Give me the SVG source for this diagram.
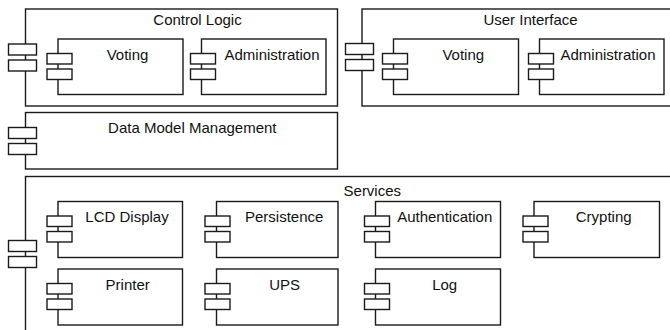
<svg xmlns="http://www.w3.org/2000/svg" width="670" height="330" viewBox="0 0 670 330">
  <style>
    .box { fill: #ffffff; stroke: #1a1a1a; stroke-width: 1.4; }
    .port { fill: #ffffff; stroke: #1a1a1a; stroke-width: 1.4; }
    text { font-family: "Liberation Sans", Arial, Helvetica, sans-serif; font-size: 15px; fill: #111111; text-anchor: middle; }
  </style>
  <defs>
    <!-- component interface tabs: outer (large) and inner (small) -->
    <g id="portsL">
      <rect class="port" x="0" y="0" width="28" height="11"/>
      <rect class="port" x="0" y="16" width="28" height="11"/>
    </g>
    <g id="portsS">
      <rect class="port" x="0" y="0" width="25" height="10.5"/>
      <rect class="port" x="0" y="15.5" width="25" height="10.5"/>
    </g>
  </defs>
  <rect width="670" height="330" fill="#ffffff"/>

  <!-- Control Logic -->
  <g id="control-logic">
    <rect class="box" x="25.5" y="9" width="312" height="97"/>
    <use href="#portsL" x="8.5" y="44"/>
    <text x="197.5" y="25">Control Logic</text>
    <g id="cl-voting">
      <rect class="box" x="58" y="39" width="125" height="55.5"/>
      <use href="#portsS" x="47" y="53.5"/>
      <text x="127.5" y="60">Voting</text>
    </g>
    <g id="cl-administration">
      <rect class="box" x="201.5" y="39" width="124.5" height="55.5"/>
      <use href="#portsS" x="190.5" y="53.5"/>
      <text x="272" y="60">Administration</text>
    </g>
  </g>

  <!-- User Interface -->
  <g id="user-interface">
    <rect class="box" x="362" y="9" width="400" height="97"/>
    <use href="#portsL" x="345.5" y="43.5"/>
    <text x="530.5" y="25">User Interface</text>
    <g id="ui-voting">
      <rect class="box" x="393.5" y="39" width="125" height="55.5"/>
      <use href="#portsS" x="382.5" y="53.5"/>
      <text x="463.3" y="60">Voting</text>
    </g>
    <g id="ui-administration">
      <rect class="box" x="539.5" y="39" width="124.5" height="55.5"/>
      <use href="#portsS" x="528.5" y="53.5"/>
      <text x="608" y="60">Administration</text>
    </g>
  </g>

  <!-- Data Model Management -->
  <g id="data-model-management">
    <rect class="box" x="25.5" y="112.5" width="312" height="56.5"/>
    <use href="#portsL" x="8.5" y="127.5"/>
    <text x="192.3" y="132.5">Data Model Management</text>
  </g>

  <!-- Services -->
  <g id="services">
    <rect class="box" x="25.5" y="176.5" width="800" height="300"/>
    <use href="#portsL" x="8.5" y="240.5"/>
    <text x="372.3" y="195.5">Services</text>
    <g id="svc-lcd-display">
      <rect class="box" x="58" y="201.5" width="124.5" height="56"/>
      <use href="#portsS" x="47" y="216"/>
      <text x="127" y="222">LCD Display</text>
    </g>
    <g id="svc-persistence">
      <rect class="box" x="216.5" y="201.5" width="121.5" height="56"/>
      <use href="#portsS" x="205" y="216"/>
      <text x="284.2" y="222">Persistence</text>
    </g>
    <g id="svc-authentication">
      <rect class="box" x="375.5" y="201.5" width="125" height="56"/>
      <use href="#portsS" x="364.5" y="216"/>
      <text x="444.7" y="222">Authentication</text>
    </g>
    <g id="svc-crypting">
      <rect class="box" x="534" y="201.5" width="125.5" height="56"/>
      <use href="#portsS" x="523" y="216"/>
      <text x="603.7" y="222">Crypting</text>
    </g>
    <g id="svc-printer">
      <rect class="box" x="58" y="269" width="124.5" height="56"/>
      <use href="#portsS" x="47" y="283.5"/>
      <text x="127.7" y="289.5">Printer</text>
    </g>
    <g id="svc-ups">
      <rect class="box" x="216.5" y="269" width="121.5" height="56"/>
      <use href="#portsS" x="205" y="283.5"/>
      <text x="284.7" y="289.5">UPS</text>
    </g>
    <g id="svc-log">
      <rect class="box" x="375.5" y="269" width="125" height="56"/>
      <use href="#portsS" x="364.5" y="283.5"/>
      <text x="444.7" y="289.5">Log</text>
    </g>
  </g>

  <!-- no connectors between components -->
  <g id="connectors"/>
</svg>
